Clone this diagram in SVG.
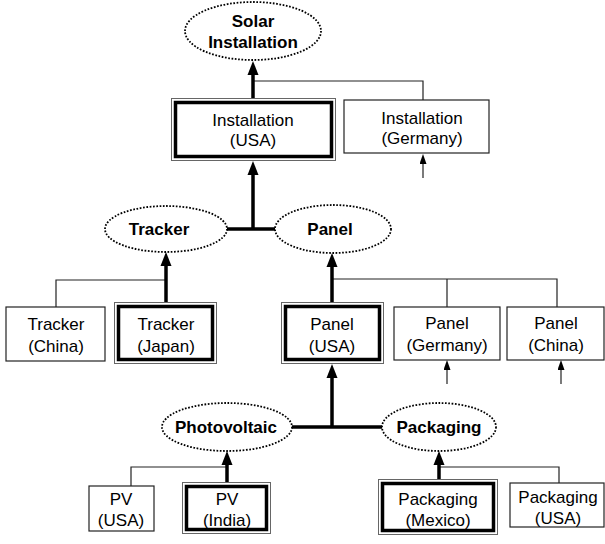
<svg xmlns="http://www.w3.org/2000/svg" width="605" height="544" viewBox="0 0 605 544">
<style>
.t{font-family:"Liberation Sans",Arial,sans-serif;font-size:17px;fill:#000;text-anchor:middle}
.b{font-weight:bold}
.box{fill:#fff;stroke:#222;stroke-width:1.2}
.outer{fill:#fff;stroke:#666;stroke-width:1}
.inner{fill:none;stroke:#000;stroke-width:3.5}
.ell{fill:#fff;stroke:#000;stroke-width:1.8;stroke-dasharray:1.7 1.6}
.thin{fill:none;stroke:#222;stroke-width:1.2}
.thick{fill:none;stroke:#000;stroke-width:3.5}
</style>
<defs>
<marker id="big" markerUnits="userSpaceOnUse" markerWidth="14" markerHeight="12" refX="4" refY="6" orient="auto" viewBox="0 0 14 12"><path d="M14 6 L0 0.5 L0 11.5 Z" fill="#000"/></marker>
<marker id="small" markerUnits="userSpaceOnUse" markerWidth="10" markerHeight="7" refX="3" refY="3.5" orient="auto" viewBox="0 0 10 7"><path d="M10 3.5 L0 0 L0 7 Z" fill="#000"/></marker>
</defs>
<g id="connectors">
<path class="thin" d="M253 81 H423 V100"/>
<line class="thick" x1="253" y1="98" x2="253" y2="71" marker-end="url(#big)"/>
<line class="thin" x1="423" y1="178" x2="423" y2="161" marker-end="url(#small)"/>
<line class="thick" x1="227" y1="229" x2="275" y2="229"/>
<line class="thick" x1="253" y1="229" x2="253" y2="171" marker-end="url(#big)"/>
<path class="thin" d="M166 280 H56 V307"/>
<line class="thick" x1="166" y1="302" x2="166" y2="262" marker-end="url(#big)"/>
<path class="thin" d="M332 279 H557 V307 M447 279 V307"/>
<line class="thick" x1="332" y1="302" x2="332" y2="263" marker-end="url(#big)"/>
<line class="thin" x1="447" y1="384" x2="447" y2="367" marker-end="url(#small)"/>
<line class="thin" x1="561" y1="384" x2="561" y2="367" marker-end="url(#small)"/>
<line class="thick" x1="292" y1="427" x2="382" y2="427"/>
<line class="thick" x1="332" y1="427" x2="332" y2="374" marker-end="url(#big)"/>
<path class="thin" d="M227 467 H131 V486"/>
<line class="thick" x1="227" y1="482" x2="227" y2="461" marker-end="url(#big)"/>
<path class="thin" d="M439 467 H559 V483"/>
<line class="thick" x1="439" y1="479" x2="439" y2="461" marker-end="url(#big)"/>
</g>
<g id="solar">
<ellipse class="ell" cx="253" cy="31" rx="68" ry="29"/>
<text class="t b" x="253" y="27">Solar</text>
<text class="t b" x="253" y="48">Installation</text>
</g>
<g id="inst-usa">
<rect class="outer" x="171.5" y="98.5" width="164" height="62"/>
<rect class="inner" x="175.5" y="102.5" width="156" height="54"/>
<text class="t" x="253" y="126">Installation</text>
<text class="t" x="253" y="146">(USA)</text>
</g>
<g id="inst-germany">
<rect class="box" x="344" y="100" width="145" height="53"/>
<text class="t" x="422" y="124">Installation</text>
<text class="t" x="422" y="144">(Germany)</text>
</g>
<g id="tracker">
<ellipse class="ell" cx="166" cy="229" rx="61" ry="23"/>
<text class="t b" x="159" y="235">Tracker</text>
</g>
<g id="panel">
<ellipse class="ell" cx="333" cy="229" rx="58" ry="24"/>
<text class="t b" x="330" y="235">Panel</text>
</g>
<g id="tracker-china">
<rect class="box" x="6" y="307" width="99" height="54"/>
<text class="t" x="56" y="330">Tracker</text>
<text class="t" x="56" y="352">(China)</text>
</g>
<g id="tracker-japan">
<rect class="outer" x="114.5" y="302.5" width="102" height="61"/>
<rect class="inner" x="118.5" y="306.5" width="94" height="53"/>
<text class="t" x="166" y="330">Tracker</text>
<text class="t" x="166" y="352">(Japan)</text>
</g>
<g id="panel-usa">
<rect class="outer" x="281.5" y="302.5" width="102" height="61"/>
<rect class="inner" x="285.5" y="306.5" width="94" height="53"/>
<text class="t" x="332" y="330">Panel</text>
<text class="t" x="332" y="352">(USA)</text>
</g>
<g id="panel-germany">
<rect class="box" x="394" y="307" width="106" height="53"/>
<text class="t" x="447" y="329">Panel</text>
<text class="t" x="447" y="351">(Germany)</text>
</g>
<g id="panel-china">
<rect class="box" x="507" y="307" width="97" height="53"/>
<text class="t" x="556" y="329">Panel</text>
<text class="t" x="556" y="351">(China)</text>
</g>
<g id="photovoltaic">
<ellipse class="ell" cx="227" cy="427" rx="65" ry="24"/>
<text class="t b" x="226" y="433">Photovoltaic</text>
</g>
<g id="packaging">
<ellipse class="ell" cx="439" cy="427" rx="57" ry="24"/>
<text class="t b" x="439" y="433">Packaging</text>
</g>
<g id="pv-usa">
<rect class="box" x="89" y="486" width="65" height="45"/>
<text class="t" x="121" y="505">PV</text>
<text class="t" x="121" y="526">(USA)</text>
</g>
<g id="pv-india">
<rect class="outer" x="182.5" y="482.5" width="88" height="51"/>
<rect class="inner" x="186.5" y="486.5" width="80" height="43"/>
<text class="t" x="227" y="505">PV</text>
<text class="t" x="227" y="526">(India)</text>
</g>
<g id="pack-mexico">
<rect class="outer" x="378.5" y="479.5" width="119" height="55"/>
<rect class="inner" x="382.5" y="483.5" width="111" height="47"/>
<text class="t" x="438" y="505">Packaging</text>
<text class="t" x="438" y="526">(Mexico)</text>
</g>
<g id="pack-usa">
<rect class="box" x="510" y="483" width="94" height="44"/>
<text class="t" x="558" y="503">Packaging</text>
<text class="t" x="558" y="524">(USA)</text>
</g>
</svg>
